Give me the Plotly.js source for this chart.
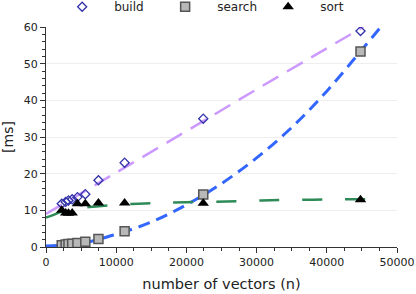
<!DOCTYPE html>
<html><head><meta charset="utf-8">
<script src="https://cdn.plot.ly/plotly-3.0.1.min.js"></script>
<style>html,body{margin:0;padding:0;background:#fff}#chart{width:416px;height:294px}</style>
</head><body><div id="chart"></div>
<script>
// measured points
const n = [2240, 2800, 3200, 3730, 4480, 5600, 7470, 11200, 22400, 44800];
const buildMs = [11.8, 12.3, 12.7, 13.0, 13.6, 14.4, 18.2, 23.0, 35.0, 58.9];
const searchMs = [0.5, 0.7, 0.8, 0.9, 1.1, 1.4, 2.2, 4.3, 14.3, 53.3];
const sortMs = [10.0, 9.3, 9.2, 9.3, 11.8, 11.8, 12.0, 12.0, 11.9, 12.9];

// fitted curves
const buildFitX = [0, 10000, 20000, 30000, 40000, 45200];
const buildFitY = [9.0, 20.3, 31.6, 43.0, 54.2, 60.0];
const searchFitX = [0, 5000, 10000, 15000, 20000, 25000, 30000, 35000, 40000, 45000, 47700];
const searchFitY = [0.3, 1.0, 3.5, 6.8, 11.5, 17.3, 24.3, 32.6, 42.5, 53.8, 60.0];
const sortFitX = [0, 1000, 2000, 3000, 5000, 7500, 10000, 15000, 20000, 27500, 33500, 40500, 47500];
const sortFitY = [8.0, 8.7, 9.5, 10.0, 10.7, 11.1, 11.5, 11.95, 12.2, 12.5, 12.8, 12.95, 13.1];

const F = 'DejaVu Sans, sans-serif';
const traces = [
  {x: buildFitX, y: buildFitY, mode: 'lines', showlegend: false, hoverinfo: 'skip',
   line: {color: '#cc99ff', width: 2.5, dash: '18px,10px', shape: 'spline'}},
  {x: searchFitX, y: searchFitY, mode: 'lines', showlegend: false, hoverinfo: 'skip',
   line: {color: '#3366ff', width: 3, dash: '12px,7px', shape: 'spline'}},
  {x: sortFitX, y: sortFitY, mode: 'lines', showlegend: false, hoverinfo: 'skip',
   line: {color: '#2e8b57', width: 2.5, dash: '20px,23px', shape: 'spline'}},
  {x: n, y: buildMs, mode: 'markers', name: 'build',
   marker: {symbol: 'diamond-open', size: 7, color: '#3333aa', line: {width: 1.3}}},
  {x: n, y: searchMs, mode: 'markers', name: 'search',
   marker: {symbol: 'square', size: 9, color: '#b8b8b8', line: {color: '#555555', width: 1.5}}},
  {x: n, y: sortMs, mode: 'markers', name: 'sort',
   marker: {symbol: 'triangle-up', size: 10, color: '#000000'}}
];

const layout = {
  width: 416, height: 294,
  margin: {l: 46, r: 19, t: 27, b: 47, autoexpand: false},
  paper_bgcolor: '#fff', plot_bgcolor: '#fff',
  font: {family: F, size: 12, color: '#222'},
  showlegend: true,
  legend: {orientation: 'h', x: 0.452, xanchor: 'center', y: 1.092, yanchor: 'middle',
           yref: 'paper', entrywidth: 34, itemwidth: 54, font: {size: 12, family: F},
           bgcolor: 'rgba(0,0,0,0)', itemclick: false},
  xaxis: {range: [0, 50000], dtick: 10000, tickformat: 'd', showgrid: false, zeroline: false,
          showline: true, linecolor: '#333', linewidth: 1, ticks: 'outside', ticklen: 5, tickcolor: '#333',
          minor: {dtick: 2500, ticks: 'outside', ticklen: 3, tickcolor: '#333', showgrid: false},
          tickfont: {size: 11, family: F}, ticklabeloverflow: 'allow',
          title: {text: 'number of vectors (n)', font: {size: 14.5, family: F}, standoff: 10}},
  yaxis: {range: [0, 60], dtick: 10, showgrid: true, gridcolor: '#eeeeee', zeroline: false,
          showline: true, linecolor: '#333', linewidth: 1, ticks: 'outside', ticklen: 5, tickcolor: '#333',
          minor: {dtick: 2, ticks: 'outside', ticklen: 3, tickcolor: '#333', showgrid: false},
          tickfont: {size: 11, family: F},
          title: {text: '[ms]', font: {size: 14, family: F}, standoff: 10}}
};
Plotly.newPlot('chart', traces, layout, {displayModeBar: false, staticPlot: true});
</script></body></html>
